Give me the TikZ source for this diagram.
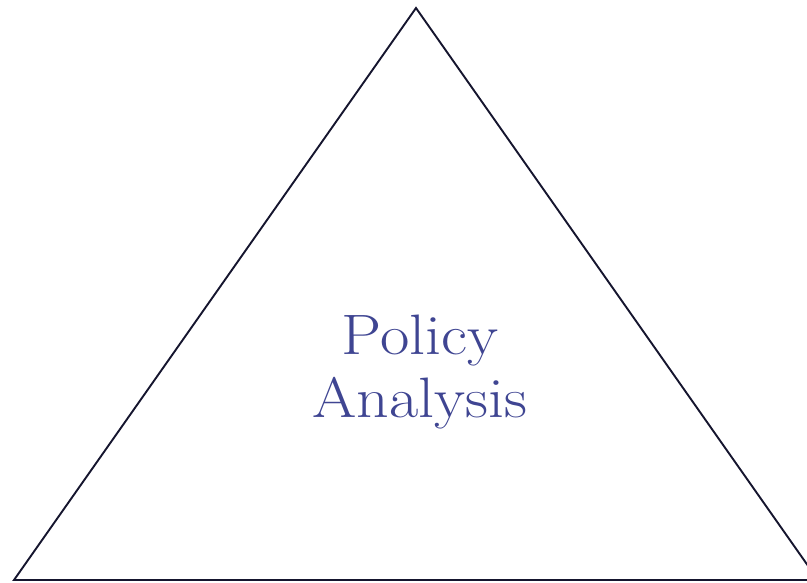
\documentclass[tikz,border=0pt]{standalone}
\usepackage{tikz}
\usetikzlibrary{positioning}
\definecolor{edgeink}{HTML}{15152E}
\definecolor{textink}{HTML}{3F4592}
\newcommand{\widetext}[1]{\scalebox{1.12}[1]{#1}}

\begin{document}
\begin{tikzpicture}[x=1pt, y=-1pt, thick]
		\tikzstyle{every node}=[text=textink,align=center,inner sep=0pt,font=\fontsize{57}{63}\selectfont]
		\useasboundingbox (0,0) rectangle (807,583);
		\coordinate (top)   at (416,8);
		\coordinate (left)  at (14,580);
		\coordinate (right) at (818,580);
		\draw[edgeink, line width=1.9pt, line join=miter] (top) -- (left) -- (right) -- cycle;
		\node (label) at (420,372) {\widetext{Policy}\\\widetext{Analysis}};
	\end{tikzpicture}
\end{document}
